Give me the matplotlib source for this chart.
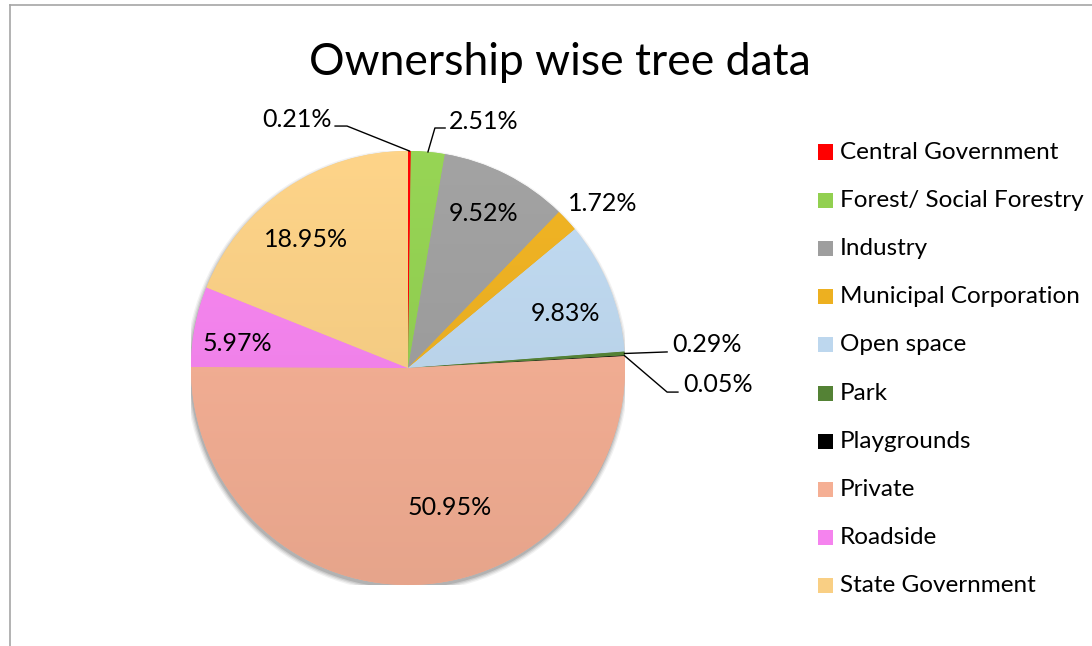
import numpy as np
import matplotlib.pyplot as plt
from matplotlib.patches import Circle, Rectangle
from matplotlib.lines import Line2D
from matplotlib.colors import to_rgb

plt.rcParams['font.family'] = ['Lato', 'DejaVu Sans']

categories = ['Central Government', 'Forest/ Social Forestry', 'Industry',
              'Municipal Corporation', 'Open space', 'Park', 'Playgrounds',
              'Private', 'Roadside', 'State Government']
shares = [0.21, 2.51, 9.52, 1.72, 9.83, 0.29, 0.05, 50.95, 5.97, 18.95]
colors = ['#FF0000', '#92D050', '#9E9E9E', '#EDB020', '#BDD7EE',
          '#548235', '#000000', '#F5AF94', '#F583EE', '#F9CF84']

# label placement (axes data units, pie radius = 1)
label_pos = [(-0.35, 1.147, 'right'), (0.189, 1.138, 'left'), (0.35, 0.714, 'center'),
             (0.899, 0.76, 'center'), (0.728, 0.253, 'center'), (1.217, 0.106, 'left'),
             (1.267, -0.074, 'left'), (0.194, -0.641, 'center'), (-0.788, 0.115, 'center'),
             (-0.47, 0.594, 'center')]
# leader line elbows for the small slices
leaders = {0: [(-0.336, 1.115), (-0.281, 1.115)],
           1: [(0.171, 1.106), (0.124, 1.106)],
           5: [(1.194, 0.074)],
           6: [(1.244, -0.111), (1.194, -0.111)]}

W, H = 1092, 646
fig = plt.figure(figsize=(W / 100, H / 100), dpi=100)
cx, cy, r = 408, 368, 217
ax = fig.add_axes([(cx - r) / W, (H - cy - r) / H, 2 * r / W, 2 * r / H])
ax.set_aspect('equal')
ax.axis('off')

# soft shadow, mostly below the pie
for i, a in enumerate([0.05, 0.07, 0.09, 0.12]):
    ax.add_patch(Circle((-0.004, -0.014), 1.02 - i * 0.006, color='black', alpha=a, lw=0, zorder=0))

wedges, _ = ax.pie(shares, colors=colors, startangle=90, counterclock=False,
                   wedgeprops=dict(linewidth=0), radius=1)
ax.set_xlim(-1, 1)
ax.set_ylim(-1, 1)

# vertical gradient fill, lighter on top
yy = np.linspace(-1, 1, 200)[:, None]
for w, c in zip(wedges, colors):
    base = np.array(to_rgb(c))
    fac = 0.94 + 0.06 * (yy + 1) / 2
    img = np.clip(base[None, None, :] * fac[:, :, None] + 0.02 * (yy[:, :, None] + 1) / 2, 0, 1)
    img = np.repeat(img, 2, axis=1)
    im = ax.imshow(img, extent=[-1, 1, -1, 1], origin='lower', aspect='auto', zorder=2)
    im.set_clip_path(w)

cum = np.cumsum([0] + shares)
for i, (x, y, ha) in enumerate(label_pos):
    ax.text(x, y, f'{shares[i]:.2f}%', ha=ha, va='center', fontsize=18, color='black', zorder=5)
    if i in leaders:
        mid = np.deg2rad((cum[i] + shares[i] / 2) / 100 * 360)
        pts = leaders[i] + [(np.sin(mid), np.cos(mid))]
        xs, ys = zip(*pts)
        ax.add_line(Line2D(xs, ys, color='black', lw=1, zorder=5, clip_on=False))

fig.text(560 / W, 1 - 75 / H, 'Ownership wise tree data', ha='center', va='baseline',
         fontsize=32, color='black')

# legend
for i, (name, c) in enumerate(zip(categories, colors)):
    ypix = 152 + i * 48.2
    fig.add_artist(Rectangle((818 / W, 1 - (ypix + 7.5) / H), 15 / W, 15 / H,
                             transform=fig.transFigure, color=c, lw=0))
    fig.text(840 / W, 1 - ypix / H, name, ha='left', va='center', fontsize=17.5, color='black')

# chart border
fig.add_artist(Line2D([10 / W, 1], [1 - 5 / H, 1 - 5 / H], transform=fig.transFigure, color='#A6A6A6', lw=1.2))
fig.add_artist(Line2D([10 / W, 10 / W], [0, 1 - 5 / H], transform=fig.transFigure, color='#A6A6A6', lw=1.2))

fig.savefig('out.png', dpi=100, facecolor='white')
